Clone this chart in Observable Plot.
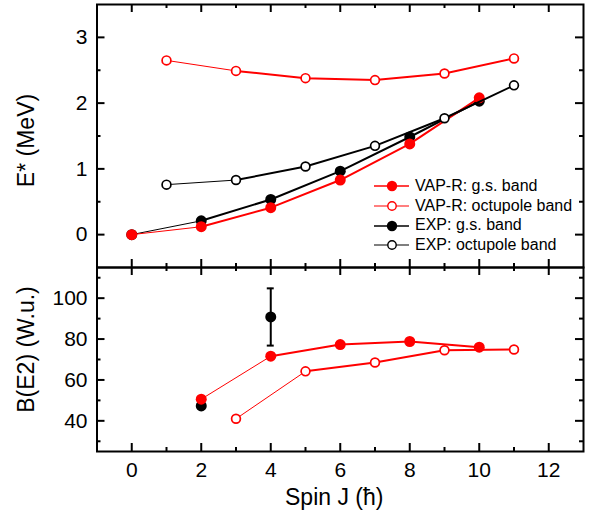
<!DOCTYPE html>
<html>
<head>
<meta charset="utf-8">
<script src="https://cdn.jsdelivr.net/npm/d3@7"></script>
<script src="https://cdn.jsdelivr.net/npm/@observablehq/plot@0.6"></script>
<style>
  html, body { margin: 0; padding: 0; background: #fff; }
  #wrap { position: relative; width: 596px; height: 517px; font-family: "Liberation Sans", Arial, sans-serif; }
  #wrap svg { overflow: visible; }
  #topPanel, #bottomPanel { position: absolute; left: 0; }
  #topPanel { top: 0; }
  #bottomPanel { top: 267px; }
  #legend { position: absolute; left: 374px; top: 176px; font-size: 16px; color: #000; }
  #legend .row { display: flex; align-items: center; height: 19.8px; white-space: nowrap; }
  #legend svg { margin-right: 5px; }
</style>
</head>
<body>
<div id="wrap">
  <div id="topPanel"></div>
  <div id="bottomPanel"></div>
  <div id="legend"></div>
</div>
<script>
// ---------- data ----------
// Top panel: excitation energies E* (MeV)
const spinGs = [0, 2, 4, 6, 8, 10];
const spinOct = [1, 3, 5, 7, 9, 11];
const eGsVap = [0, 0.12, 0.41, 0.83, 1.38, 2.08];
const eOctVap = [2.65, 2.49, 2.38, 2.35, 2.45, 2.68];
const eGsExp = [0, 0.21, 0.535, 0.965, 1.485, 2.03];
const eOctExp = [0.76, 0.83, 1.035, 1.35, 1.77, 2.27];

// Bottom panel: B(E2) (W.u.)
const spinBe2Gs = [2, 4, 6, 8, 10];
const be2GsVap = [50.6, 71.6, 77.3, 78.8, 76.0];
const spinBe2Oct = [3, 5, 7, 9, 11];
const be2OctVap = [41.0, 64.2, 68.5, 74.5, 74.9];
const spinBe2Exp = [2, 4];
const be2GsExp = [47.3, 90.8];
const be2GsExpErr = [0, 14.0];

// Axes
const xDomain = [-1, 13];
const xMajor = [0, 2, 4, 6, 8, 10, 12];
const xMinor = [1, 3, 5, 7, 9, 11];
const eDomain = [-0.5, 3.5];
const eMajor = [0, 1, 2, 3];
const eMinor = [0.5, 1.5, 2.5];
const bDomain = [25, 115];
const bMajor = [40, 60, 80, 100];
const bMinor = [30, 50, 70, 90, 110];

const xTitle = "Spin J (ħ)";
const eTitle = "E* (MeV)";
const bTitle = "B(E2) (W.u.)";

const legendLabels = ["VAP-R: g.s. band", "VAP-R: octupole band", "EXP: g.s. band", "EXP: octupole band"];
const legendColors = ["#ff0000", "#ff0000", "#000000", "#000000"];
const legendFilled = [true, false, true, false];

// ---------- helpers ----------
const RED = "#ff0000";
const rows = (xs, ys) => xs.map((x, i) => ({x, y: ys[i]}));
const W = 596, ML = 96.5, MR = 13;
const plotW = W - ML - MR;
const font = "Liberation Sans, Arial, sans-serif";
const fmt = d => String(d);

function series(data, color, filled) {
  return [
    Plot.line(data.slice(0, 2), {x: "x", y: "y", stroke: color, strokeWidth: 1}),
    Plot.line(data.slice(1), {x: "x", y: "y", stroke: color, strokeWidth: 2}),
    filled
      ? Plot.dot(data, {x: "x", y: "y", r: 5.5, fill: color, stroke: "none"})
      : Plot.dot(data, {x: "x", y: "y", r: 4.4, fill: "white", stroke: color, strokeWidth: 1.7})
  ];
}

function frameTicks(h, yMaj, yMin) {
  const M = 8, m = 4, sw = 2;
  return [
    Plot.tickX(xMajor, {x: d => d, insetTop: h - M, strokeWidth: sw}),
    Plot.tickX(xMajor, {x: d => d, insetBottom: h - M, strokeWidth: sw}),
    Plot.tickX(xMinor, {x: d => d, insetTop: h - m, strokeWidth: sw}),
    Plot.tickX(xMinor, {x: d => d, insetBottom: h - m, strokeWidth: sw}),
    Plot.tickY(yMaj, {y: d => d, insetRight: plotW - M, strokeWidth: sw}),
    Plot.tickY(yMaj, {y: d => d, insetLeft: plotW - M, strokeWidth: sw}),
    Plot.tickY(yMin, {y: d => d, insetRight: plotW - m, strokeWidth: sw}),
    Plot.tickY(yMin, {y: d => d, insetLeft: plotW - m, strokeWidth: sw})
  ];
}

// ---------- top panel ----------
const topH = 267, topMT = 4, topMB = 0;
const topPlot = Plot.plot({
  width: W, height: topH,
  marginLeft: ML, marginRight: MR, marginTop: topMT, marginBottom: topMB,
  style: {fontFamily: font, background: "transparent", overflow: "visible"},
  x: {domain: xDomain, axis: null},
  y: {domain: eDomain, axis: null},
  marks: [
    ...frameTicks(topH - topMT - topMB, eMajor, eMinor),
    Plot.axisY({ticks: eMajor, tickFormat: fmt, anchor: "left", tickSize: 0, tickPadding: 9.5, label: null, fontSize: 21}),
    ...series(rows(spinGs, eGsExp), "#000", true),
    ...series(rows(spinGs, eGsVap), RED, true),
    ...series(rows(spinOct, eOctVap), RED, false),
    ...series(rows(spinOct, eOctExp), "#000", false),
    Plot.text([eTitle], {frameAnchor: "left", dx: -70.5, dy: 4.5, rotate: -90, fontSize: 23, lineAnchor: "middle", textAnchor: "middle"}),
    Plot.frame({strokeWidth: 2})
  ]
});
document.getElementById("topPanel").appendChild(topPlot);

// ---------- bottom panel ----------
const botH = 250, botMT = 0, botMB = 66;
const expRows = spinBe2Exp.map((x, i) => ({x, y: be2GsExp[i], e: be2GsExpErr[i]}));
const errRows = expRows.filter(d => d.e > 0);
const capHalf = 0.1;
const bottomPlot = Plot.plot({
  width: W, height: botH,
  marginLeft: ML, marginRight: MR, marginTop: botMT, marginBottom: botMB,
  style: {fontFamily: font, background: "transparent", overflow: "visible"},
  x: {domain: xDomain, axis: null},
  y: {domain: bDomain, axis: null},
  marks: [
    ...frameTicks(botH - botMT - botMB, bMajor, bMinor),
    Plot.axisY({ticks: bMajor, tickFormat: fmt, anchor: "left", tickSize: 0, tickPadding: 9.5, label: null, fontSize: 21}),
    Plot.axisX({ticks: xMajor, tickFormat: fmt, anchor: "bottom", tickSize: 0, tickPadding: 11, label: null, fontSize: 21}),
    Plot.ruleX(errRows, {x: "x", y1: d => d.y - d.e, y2: d => d.y + d.e, strokeWidth: 2}),
    Plot.ruleY(errRows, {y: d => d.y - d.e, x1: d => d.x - capHalf, x2: d => d.x + capHalf, strokeWidth: 2}),
    Plot.ruleY(errRows, {y: d => d.y + d.e, x1: d => d.x - capHalf, x2: d => d.x + capHalf, strokeWidth: 2}),
    Plot.dot(expRows, {x: "x", y: "y", r: 5.5, fill: "#000"}),
    ...series(rows(spinBe2Gs, be2GsVap), RED, true),
    ...series(rows(spinBe2Oct, be2OctVap), RED, false),
    Plot.text([bTitle], {frameAnchor: "left", dx: -70.5, dy: -10, rotate: -90, fontSize: 23, lineAnchor: "middle", textAnchor: "middle"}),
    Plot.text([xTitle], {frameAnchor: "bottom", dx: -6, dy: 46.6, fontSize: 23, lineAnchor: "middle", textAnchor: "middle"}),
    Plot.frame({strokeWidth: 2})
  ]
});
document.getElementById("bottomPanel").appendChild(bottomPlot);

// ---------- legend ----------
const legend = d3.select("#legend");
legendLabels.forEach((label, i) => {
  const row = legend.append("div").attr("class", "row");
  const svg = row.append("svg").attr("width", 36).attr("height", 20);
  svg.append("line").attr("x1", 0).attr("x2", 35).attr("y1", 10).attr("y2", 10)
    .attr("stroke", legendColors[i]).attr("stroke-width", legendFilled[i] ? 1.6 : 1.2);
  svg.append("circle").attr("cx", 18).attr("cy", 10).attr("r", legendFilled[i] ? 5.2 : 4.2)
    .attr("fill", legendFilled[i] ? legendColors[i] : "white")
    .attr("stroke", legendColors[i]).attr("stroke-width", legendFilled[i] ? 0 : 1.4);
  row.append("span").text(label);
});
</script>
</body>
</html>
